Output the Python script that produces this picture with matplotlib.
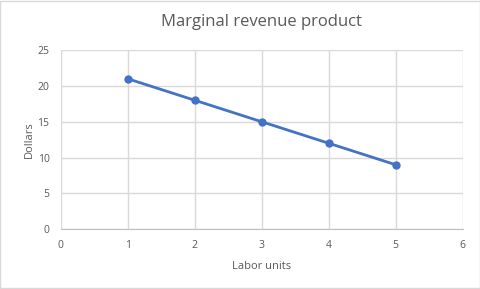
import matplotlib
matplotlib.use("Agg")
import matplotlib.pyplot as plt
from matplotlib.patches import Rectangle

# data
labor_units = [1, 2, 3, 4, 5]
mrp = [21, 18, 15, 12, 9]
x_ticks = [0, 1, 2, 3, 4, 5, 6]
y_ticks = [0, 5, 10, 15, 20, 25]

plt.rcParams['font.family'] = ['Open Sans', 'DejaVu Sans']

fig = plt.figure(figsize=(4.81, 2.89), dpi=100)
ax = fig.add_axes([0.1258, 0.2066, 0.8362, 0.6204])

# outer chart border
fig.patches.append(Rectangle((0.001, 0.002), 0.997, 0.995, transform=fig.transFigure,
                             fill=False, edgecolor='#D9D9D9', linewidth=1))

ax.plot(labor_units, mrp, color='#4472C4', linewidth=2, marker='o', markersize=5)

ax.set_xlim(0, 6)
ax.set_ylim(0, 25)
ax.set_xticks(x_ticks)
ax.set_yticks(y_ticks)
ax.grid(True, color='#D9D9D9', linewidth=1)
ax.set_axisbelow(True)

for side in ['top', 'right', 'left']:
    ax.spines[side].set_visible(False)
ax.spines['bottom'].set_color('#BFBFBF')

ax.tick_params(length=0, labelsize=7.5, colors='#595959', pad=8)

ax.set_title('Marginal revenue product', fontsize=12, color='#595959', pad=17)
ax.set_xlabel('Labor units', fontsize=8, color='#595959', labelpad=7)
ax.set_ylabel('Dollars', fontsize=8, color='#595959', labelpad=2)

fig.savefig('out.png', dpi=100)
